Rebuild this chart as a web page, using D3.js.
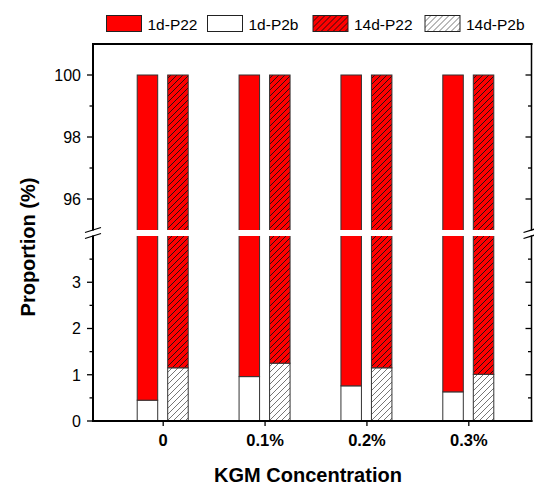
<!DOCTYPE html>
<html>
<head>
<meta charset="utf-8">
<script src="https://cdn.jsdelivr.net/npm/d3@7"></script>
<style>
    body { margin: 0; background: #fff; }
    #chart { width: 534px; height: 486px; }
    text { font-family: Arial, "Liberation Sans", sans-serif; }
</style>
</head>
<body>
<div id="chart"></div>
<script>

// data
let categories = ["0", "0.1%", "0.2%", "0.3%"];
let p2b1d = [0.45, 0.96, 0.76, 0.63];
let p22_1d = [99.55, 99.04, 99.24, 99.37];
let p2b14d = [1.15, 1.25, 1.15, 1.01];
let p22_14d = [98.85, 98.75, 98.85, 98.99];

let upperTicks = [96, 98, 100];
let upperMinor = [97, 99];
let lowerTicks = [0, 1, 2, 3];
let lowerMinor = [0.5, 1.5, 2.5, 3.5];

let legendNames = ["1d-P22", "1d-P2b", "14d-P22", "14d-P2b"];


class BrokenBarVis {

    constructor(parentElement) {
        this.parentElement = parentElement;
        this.initVis();
    }

    initVis() {
        let vis = this;

        vis.left = 93;
        vis.right = 531.5;
        vis.top = 44;
        vis.bottom = 421;

        vis.svg = d3.select("#" + vis.parentElement).append("svg")
            .attr("width", 534)
            .attr("height", 486);

        let defs = vis.svg.append("defs");
        vis.makeHatch(defs, "hatchRed", "#ff0000", "#111");
        vis.makeHatch(defs, "hatchWhite", "#ffffff", "#666");

        // two y segments with a break between them
        vis.yUpper = d3.scaleLinear().domain([95, 101]).range([230, vis.top]);
        vis.yLower = d3.scaleLinear().domain([0, 4]).range([vis.bottom, 236]);

        vis.xScale = d3.scalePoint()
            .domain(categories)
            .range([162.7, 468.3]);

        defs.append("clipPath").attr("id", "clipUpper")
            .append("rect")
            .attr("x", vis.left).attr("y", vis.top)
            .attr("width", vis.right - vis.left).attr("height", 230 - vis.top);
        defs.append("clipPath").attr("id", "clipLower")
            .append("rect")
            .attr("x", vis.left).attr("y", 236)
            .attr("width", vis.right - vis.left).attr("height", vis.bottom - 236 + 1);

        vis.wrangleData();
    }

    makeHatch(defs, id, bg, line) {
        let p = defs.append("pattern")
            .attr("id", id)
            .attr("patternUnits", "userSpaceOnUse")
            .attr("width", 6)
            .attr("height", 6);
        p.append("rect").attr("width", 6).attr("height", 6).attr("fill", bg);
        p.append("path")
            .attr("d", "M-1,1 l2,-2 M0,6 l6,-6 M5,7 l2,-2")
            .attr("stroke", line)
            .attr("stroke-width", 0.9);
    }

    wrangleData() {
        let vis = this;

        vis.bars = [];
        categories.forEach((c, i) => {
            vis.bars.push({cat: c, off: -25.5, y0: 0, y1: p2b1d[i], fill: "#ffffff"});
            vis.bars.push({cat: c, off: -25.5, y0: p2b1d[i], y1: p2b1d[i] + p22_1d[i], fill: "#ff0000"});
            vis.bars.push({cat: c, off: 5, y0: 0, y1: p2b14d[i], fill: "url(#hatchWhite)"});
            vis.bars.push({cat: c, off: 5, y0: p2b14d[i], y1: p2b14d[i] + p22_14d[i], fill: "url(#hatchRed)"});
        });

        vis.updateVis();
    }

    drawSegment(scale, clipId) {
        let vis = this;
        let dom = scale.domain();
        // extend a bit past the segment so the clip hides edges at the break
        let lo = dom[0] - 0.5, hi = dom[1] + 0.5;

        vis.svg.append("g")
            .attr("clip-path", `url(#${clipId})`)
            .selectAll("rect")
            .data(vis.bars.filter(d => d.y1 > dom[0] && d.y0 < dom[1]))
            .enter()
            .append("rect")
            .attr("x", d => vis.xScale(d.cat) + d.off)
            .attr("width", 20.5)
            .attr("y", d => scale(Math.min(d.y1, hi)))
            .attr("height", d => scale(Math.max(d.y0, lo)) - scale(Math.min(d.y1, hi)))
            .attr("fill", d => d.fill)
            .attr("stroke", "#333")
            .attr("stroke-width", 1);
    }

    drawTicks(scale, major, minor, withLabels) {
        let vis = this;
        let g = vis.svg.append("g").attr("stroke", "#000").attr("stroke-width", 1.3);

        g.selectAll(".maj").data(major).enter().append("line")
            .attr("x1", vis.left - 6).attr("x2", vis.left)
            .attr("y1", d => scale(d)).attr("y2", d => scale(d));
        g.selectAll(".min").data(minor).enter().append("line")
            .attr("x1", vis.left - 3.5).attr("x2", vis.left)
            .attr("y1", d => scale(d)).attr("y2", d => scale(d));
        g.selectAll(".rmaj").data(major).enter().append("line")
            .attr("x1", vis.right - 6).attr("x2", vis.right)
            .attr("y1", d => scale(d)).attr("y2", d => scale(d));
        g.selectAll(".rmin").data(minor).enter().append("line")
            .attr("x1", vis.right - 3.5).attr("x2", vis.right)
            .attr("y1", d => scale(d)).attr("y2", d => scale(d));

        if (withLabels) {
            vis.svg.append("g").selectAll("text")
                .data(major).enter().append("text")
                .attr("x", vis.left - 12)
                .attr("y", d => scale(d))
                .attr("dy", "0.36em")
                .attr("text-anchor", "end")
                .style("font-size", "16px")
                .text(d => d);
        }
    }

    drawBreak(x, y) {
        let vis = this;
        // white gap in the axis then the two slanted strokes
        vis.svg.append("rect")
            .attr("x", x - 2).attr("y", y - 2.5)
            .attr("width", 4).attr("height", 5)
            .attr("fill", "#fff");
        [-3, 3].forEach(dy => {
            vis.svg.append("line")
                .attr("x1", x - 8).attr("y1", y + dy + 2.5)
                .attr("x2", x + 8).attr("y2", y + dy - 2.5)
                .attr("stroke", "#000")
                .attr("stroke-width", 1.3);
        });
    }

    updateVis() {
        let vis = this;

        vis.drawSegment(vis.yUpper, "clipUpper");
        vis.drawSegment(vis.yLower, "clipLower");

        // frame
        let frame = vis.svg.append("g").attr("stroke", "#000").attr("fill", "none");
        frame.append("line").attr("x1", vis.left).attr("x2", vis.left)
            .attr("y1", vis.top - 1).attr("y2", vis.bottom + 1).attr("stroke-width", 2);
        frame.append("line").attr("x1", vis.left - 1).attr("x2", vis.right + 1)
            .attr("y1", vis.top).attr("y2", vis.top).attr("stroke-width", 2);
        frame.append("line").attr("x1", vis.left - 1).attr("x2", vis.right + 1)
            .attr("y1", vis.bottom).attr("y2", vis.bottom).attr("stroke-width", 2);
        frame.append("line").attr("x1", vis.right).attr("x2", vis.right)
            .attr("y1", vis.top - 1).attr("y2", vis.bottom + 1).attr("stroke-width", 1.5);

        vis.drawTicks(vis.yUpper, upperTicks, upperMinor, true);
        vis.drawTicks(vis.yLower, lowerTicks, lowerMinor, true);

        vis.drawBreak(vis.left, 233);
        vis.drawBreak(vis.right, 233);

        // x axis
        vis.xAxis = d3.axisBottom(vis.xScale).tickSize(5).tickPadding(8);
        let xg = vis.svg.append("g")
            .attr("class", "xAxis")
            .attr("transform", `translate(0, ${vis.bottom})`)
            .call(vis.xAxis);
        xg.select(".domain").remove();
        xg.selectAll("line").attr("stroke-width", 1.3);
        xg.selectAll("text")
            .style("font-size", "16.5px")
            .style("font-weight", "bold")
            .style("font-family", "Arial, 'Liberation Sans', sans-serif")
            .attr("fill", "#000");

        // axis titles
        vis.svg.append("text")
            .attr("x", 308)
            .attr("y", 482)
            .attr("text-anchor", "middle")
            .style("font-size", "20px")
            .style("font-weight", "bold")
            .text("KGM Concentration");

        vis.svg.append("text")
            .attr("transform", "translate(35, 247) rotate(-90)")
            .attr("text-anchor", "middle")
            .style("font-size", "20px")
            .style("font-weight", "bold")
            .text("Proportion (%)");

        // legend
        let legendFills = ["#ff0000", "#ffffff", "url(#hatchRed)", "url(#hatchWhite)"];
        let legendX = [106.5, 207.5, 313, 425];
        let lg = vis.svg.append("g").selectAll("g")
            .data(legendNames).enter().append("g")
            .attr("transform", (d, i) => `translate(${legendX[i]}, 15.5)`);
        lg.append("rect")
            .attr("width", 35).attr("height", 16)
            .attr("fill", (d, i) => legendFills[i])
            .attr("stroke", "#222").attr("stroke-width", 1);
        lg.append("text")
            .attr("x", 41).attr("y", 14.5)
            .style("font-size", "15.5px")
            .text(d => d);
    }
}

let myBarVis = new BrokenBarVis("chart");

</script>
</body>
</html>
